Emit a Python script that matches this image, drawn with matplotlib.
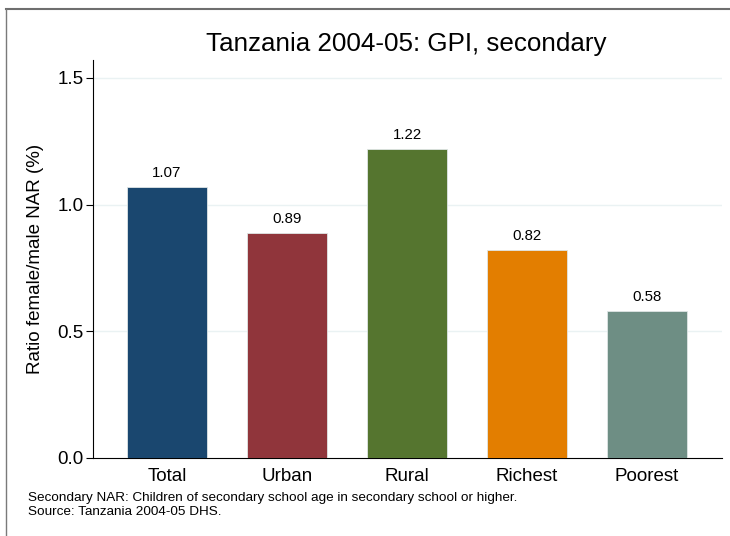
import matplotlib.pyplot as plt
from matplotlib.lines import Line2D

plt.rcParams['font.family'] = ['Liberation Sans', 'DejaVu Sans']

# data
categories = ["Total", "Urban", "Rural", "Richest", "Poorest"]
gpi = [1.07, 0.89, 1.22, 0.82, 0.58]
colors = ["#1a476f", "#90353b", "#55752f", "#e37e00", "#6e8e84"]
yticks = [0.0, 0.5, 1.0, 1.5]

fig = plt.figure(figsize=(7.3, 5.36), dpi=100)
ax = fig.add_axes([93 / 730, 1 - 458 / 536, (722 - 93) / 730, (458 - 60) / 536])

x = list(range(len(categories)))
bars = ax.bar(x, gpi, width=80 / 120, color=colors, edgecolor="#dfe6e6",
              linewidth=0.6, zorder=3)

# etiquetas de valor encima de cada barra
for xi, v in zip(x, gpi):
    ax.annotate("%.2f" % v, (xi, v), xytext=(0, 5), textcoords="offset points",
                ha="center", va="bottom", fontsize=10.8)

ax.set_xlim(-0.617, 4.625)
ax.set_ylim(0, 1.571)
ax.set_yticks(yticks)
ax.set_yticklabels(["%.1f" % t for t in yticks], fontsize=13.5)
ax.set_xticks(x)
ax.set_xticklabels(categories, fontsize=13.5)
ax.tick_params(axis="x", length=0, pad=7)
ax.tick_params(axis="y", length=5, width=0.8, pad=2)

# light horizontal grid
for t in yticks[1:]:
    ax.axhline(t, color="#eaf2f3", linewidth=1.0, zorder=1)

for s in ["top", "right"]:
    ax.spines[s].set_visible(False)
ax.spines["left"].set_linewidth(0.8)
ax.spines["bottom"].set_linewidth(0.8)

fig.text(36 / 730, 1 - 259 / 536, "Ratio female/male NAR (%)", rotation=90,
         ha="center", va="center", fontsize=13.5)

fig.text(406 / 730, 1 - 44 / 536, "Tanzania 2004-05: GPI, secondary",
         ha="center", va="center", fontsize=18.7)

fig.text(28 / 730, 1 - 498 / 536,
         "Secondary NAR: Children of secondary school age in secondary school or higher.",
         ha="left", va="center", fontsize=9.7)
fig.text(28 / 730, 1 - 512 / 536, "Source: Tanzania 2004-05 DHS.",
         ha="left", va="center", fontsize=9.7)

# outer frame (top and left edges, rest cropped off)
fig.add_artist(Line2D([6 / 730, 1], [1 - 8.5 / 536, 1 - 8.5 / 536],
                      transform=fig.transFigure, color="#6e6e6e", linewidth=1.5))
fig.add_artist(Line2D([6 / 730, 6 / 730], [0, 1 - 8.5 / 536],
                      transform=fig.transFigure, color="#7a7a7a", linewidth=1.0))

fig.savefig("out.png", dpi=100)
